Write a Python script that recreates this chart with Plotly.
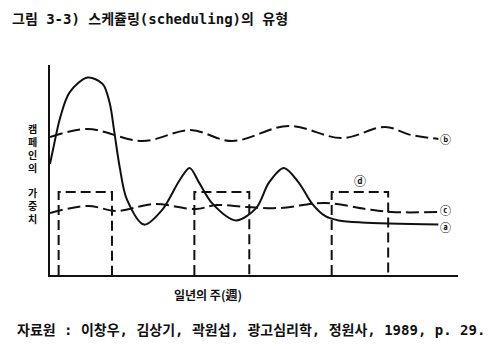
import plotly.graph_objects as go

# Weeks of the year (x) and campaign weight (y, 0-100)
weeks_a = [0, 0.4, 1.3, 2.5, 4.8, 6.7, 7.6, 8.2, 8.9, 9.8, 12.0, 14.3, 16.5, 17.8,
           19.0, 20.7, 23.7, 26.3, 27.9, 29.8, 31.7, 33.4, 35.1, 36.8, 39.7, 49.5]
weight_a = [53, 60, 75, 87, 94, 91, 82, 68, 51, 36, 24, 31, 45, 51,
            44, 34, 26, 32, 44, 51, 44, 34, 28, 26, 25, 24]

weeks_b = [0, 4.8, 11.8, 17.9, 23.2, 30.4, 37.2, 42.7, 46.0, 49.5]
weight_b = [65.7, 69.5, 63.8, 69.0, 63.8, 71.0, 65.2, 70.5, 66.7, 64.8]

weeks_c = [0, 4.8, 8.5, 13.3, 18.6, 21.2, 25.0, 29.2, 35.1, 40.2, 43.5, 49.5]
weight_c = [29.5, 32.9, 30.5, 33.8, 31.4, 33.3, 32.4, 31.9, 34.3, 31.4, 30.0, 30.0]

# Pulsing schedule (d): on-periods and their level
pulse_start = [1.1, 18.4, 35.9]
pulse_end = [7.9, 25.4, 43.1]
pulse_level = 39.5

title_text = "그림 3-3) 스케쥴링(scheduling)의 유형"
x_title = "일년의 주(週)"
y_title_top = "캠페인의"
y_title_bottom = "가중치"
source_text = "자료원 : 이창우, 김상기, 곽원섭, 광고심리학, 정원사, 1989, p. 29."

KR = "Noto Sans CJK KR"
MIXED = "DejaVu Sans Mono, Noto Sans CJK KR"
INK = "#111111"

fig = go.Figure()

fig.add_trace(go.Scatter(x=weeks_b, y=weight_b, mode="lines",
                         line=dict(color=INK, width=2, dash="13px,5px",
                                   shape="spline", smoothing=1.0)))
fig.add_trace(go.Scatter(x=weeks_c, y=weight_c, mode="lines",
                         line=dict(color=INK, width=2, dash="13px,5px",
                                   shape="spline", smoothing=1.0)))
fig.add_trace(go.Scatter(x=weeks_a, y=weight_a, mode="lines",
                         line=dict(color=INK, width=2,
                                   shape="spline", smoothing=0.9)))

# Build the pulse rectangles from start/end weeks
px, py = [], []
for s, e in zip(pulse_start, pulse_end):
    px += [s, s, e, e, None]
    py += [0, pulse_level, pulse_level, 0, None]
fig.add_trace(go.Scatter(x=px, y=py, mode="lines",
                         line=dict(color=INK, width=2, dash="10px,5px")))

annotations = []
# End-of-line series markers (a and c nudged apart so they don't collide)
for lbl, xs, ys, nudge in [("ⓐ", weeks_a, weight_a, -2), ("ⓑ", weeks_b, weight_b, 0),
                           ("ⓒ", weeks_c, weight_c, 2)]:
    annotations.append(dict(x=xs[-1], y=ys[-1], text=lbl, showarrow=False,
                            xanchor="left", yanchor="middle", yshift=nudge,
                            font=dict(family=KR, size=11, color=INK, weight=700)))
annotations.append(dict(x=(pulse_start[2] + pulse_end[2]) / 2, y=pulse_level,
                        text="ⓓ", showarrow=False, yanchor="bottom", yshift=1,
                        font=dict(family=KR, size=12, color=INK, weight=700)))

# Vertical y-axis title, stacked one character per line
annotations.append(dict(xref="paper", yref="paper", x=-0.042, y=0.605,
                        text="<br>".join(y_title_top), showarrow=False,
                        xanchor="center", yanchor="middle",
                        font=dict(family=KR, size=10, color=INK, weight=700)))
annotations.append(dict(xref="paper", yref="paper", x=-0.042, y=0.329,
                        text="<br>".join(y_title_bottom), showarrow=False,
                        xanchor="center", yanchor="middle",
                        font=dict(family=KR, size=10, color=INK, weight=700)))

annotations.append(dict(xref="paper", yref="paper", x=0.387, y=-0.095, text=x_title,
                        showarrow=False, xanchor="center", yanchor="middle",
                        font=dict(family=KR, size=12, color=INK, weight=700)))
annotations.append(dict(xref="paper", yref="paper", x=-0.098, y=1.22, text=title_text,
                        showarrow=False, xanchor="left", yanchor="middle",
                        font=dict(family=MIXED, size=14, color=INK, weight=700)))
annotations.append(dict(xref="paper", yref="paper", x=-0.086, y=-0.262, text=source_text,
                        showarrow=False, xanchor="left", yanchor="middle",
                        font=dict(family=MIXED, size=14, color=INK, weight=700)))

fig.update_layout(
    width=500, height=349,
    margin=dict(l=50, r=42, t=65, b=74),
    paper_bgcolor="white", plot_bgcolor="white",
    showlegend=False,
    annotations=annotations,
    xaxis=dict(range=[0, 52], showgrid=False, zeroline=False, showticklabels=False,
               ticks="", showline=True, linecolor=INK, linewidth=2, fixedrange=True),
    yaxis=dict(range=[0, 100], showgrid=False, zeroline=False, showticklabels=False,
               ticks="", showline=True, linecolor=INK, linewidth=2, fixedrange=True),
)

fig.write_html("out.html")
